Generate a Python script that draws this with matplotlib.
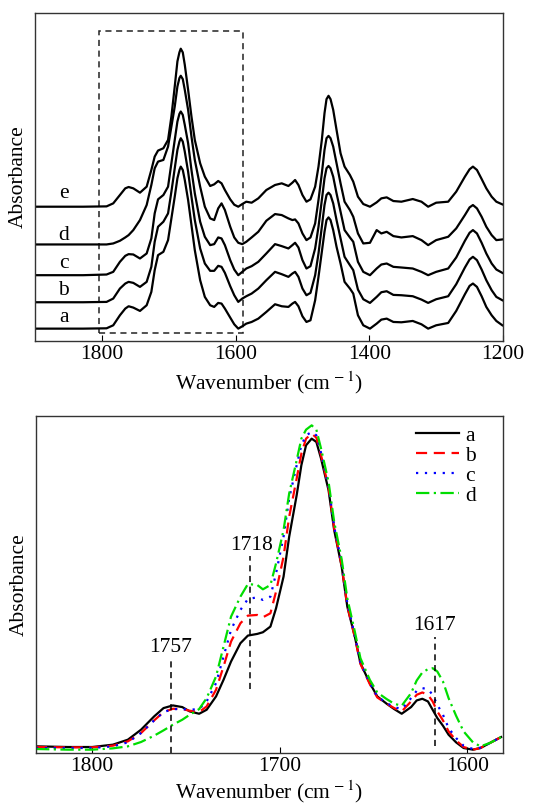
import numpy as np
import matplotlib
matplotlib.use("Agg")
import matplotlib.pyplot as plt
from matplotlib.patches import Rectangle

plt.rcParams['font.family'] = ['Liberation Serif', 'DejaVu Serif']
plt.rcParams['mathtext.fontset'] = 'stix'

# ---------------- top panel: stacked spectra a-e (offset absorbance, a.u.) ----------------
wn_top = [1900, 1828, 1793, 1783, 1773, 1765, 1760, 1753, 1743, 1733,
          1726, 1721, 1716, 1708, 1701, 1696, 1691, 1687, 1684, 1682,
          1679, 1676, 1671, 1666, 1661, 1653, 1646, 1638, 1632, 1626,
          1621, 1616, 1608, 1602, 1596, 1590, 1584, 1576, 1566, 1554,
          1541, 1531, 1521, 1515, 1511, 1506, 1500, 1494, 1488, 1481,
          1476, 1471, 1467, 1464, 1461, 1458, 1454, 1449, 1443, 1437,
          1429, 1424, 1417, 1409, 1399, 1389, 1382, 1374, 1364, 1352,
          1335, 1322, 1312, 1300, 1282, 1270, 1257, 1250, 1245, 1239,
          1232, 1225, 1217, 1210, 1201]

top_a = [37, 37, 38, 47, 77, 97, 104, 100, 90, 107,
         147, 212, 257, 267, 302, 367, 432, 487, 512, 522,
         512, 482, 422, 347, 272, 182, 132, 107, 102, 114,
         112, 97, 70, 50, 37, 44, 52, 57, 67, 87,
         110, 104, 102, 112, 117, 104, 74, 57, 62, 122,
         192, 267, 327, 362, 370, 362, 332, 282, 232, 177,
         157, 142, 77, 47, 37, 52, 64, 67, 57, 56,
         60, 50, 37, 47, 54, 90, 140, 165, 172, 162,
         134, 102, 77, 60, 47]
top_b = [116, 116, 117, 127, 157, 172, 177, 174, 162, 177,
         222, 297, 342, 357, 382, 447, 517, 572, 597, 607,
         597, 567, 507, 432, 362, 277, 232, 210, 210, 225,
         222, 204, 164, 137, 117, 127, 134, 142, 157, 182,
         207, 200, 192, 202, 207, 192, 157, 137, 144, 197,
         262, 342, 407, 437, 444, 437, 412, 362, 307, 252,
         227, 212, 154, 125, 114, 132, 146, 149, 138, 137,
         134, 124, 114, 125, 134, 170, 220, 244, 252, 242,
         214, 182, 152, 132, 122]
top_c = [197, 197, 199, 207, 237, 255, 260, 259, 247, 262,
         307, 382, 424, 437, 462, 532, 602, 657, 680, 687,
         677, 647, 592, 512, 442, 357, 312, 287, 290, 310,
         307, 287, 242, 214, 197, 207, 217, 224, 237, 262,
         290, 284, 277, 287, 294, 280, 242, 217, 224, 277,
         342, 422, 487, 517, 524, 517, 492, 442, 387, 332,
         310, 297, 237, 207, 197, 217, 229, 232, 222, 220,
         217, 207, 197, 207, 217, 250, 300, 324, 332, 322,
         294, 262, 232, 214, 204]
top_d = [289, 289, 289, 292, 300, 310, 317, 332, 362, 407,
         467, 517, 537, 542, 582, 642, 702, 762, 787, 794,
         784, 752, 692, 612, 542, 462, 402, 367, 362, 397,
         412, 392, 342, 310, 294, 290, 297, 310, 327, 360,
         380, 377, 367, 362, 364, 352, 322, 302, 310, 352,
         422, 502, 572, 607, 614, 607, 582, 532, 472, 417,
         392, 372, 322, 292, 294, 332, 322, 327, 314, 310,
         314, 302, 287, 302, 312, 337, 377, 400, 407, 397,
         372, 342, 317, 302, 304]
top_e = [402, 402, 403, 412, 437, 457, 461, 457, 444, 462,
         512, 552, 570, 577, 602, 672, 762, 837, 864, 875,
         864, 827, 752, 672, 602, 532, 492, 464, 469, 479,
         472, 452, 424, 408, 402, 410, 417, 414, 427, 452,
         467, 472, 464, 474, 482, 467, 437, 417, 424, 462,
         522, 602, 682, 724, 734, 724, 692, 632, 562, 522,
         497, 477, 432, 410, 402, 415, 427, 430, 419, 417,
         425, 417, 402, 414, 417, 447, 492, 514, 522, 512,
         485, 457, 432, 417, 409]
top_labels = ['a', 'b', 'c', 'd', 'e']
top_label_y = [70, 152, 232, 317, 442]

# ---------------- bottom panel: 1830-1581 cm-1 region ----------------
wn_bot = [1830, 1813, 1800, 1789, 1781, 1774, 1767, 1762, 1757, 1752,
          1748, 1743, 1739, 1734, 1730, 1726, 1721, 1717, 1712, 1709,
          1705, 1702, 1698, 1695, 1691, 1688.5, 1686, 1683, 1680.5, 1678,
          1674, 1671, 1667, 1664, 1660, 1657, 1652, 1648, 1643, 1639,
          1635, 1630, 1627, 1624, 1621, 1618.5, 1616, 1613, 1610, 1606,
          1602, 1597, 1593, 1588, 1582]
bot_a = [20, 18, 18, 25, 40, 70, 110, 135, 143, 138,
         125, 118, 130, 170, 220, 275, 330, 353, 358, 363,
         380, 435, 530, 650, 775, 865, 925, 945, 935, 885,
         790, 670, 560, 440, 350, 270, 210, 170, 148, 132,
         118, 138, 158, 163, 155, 130, 105, 82, 55, 32,
         15, 10, 15, 30, 48]
bot_b = [18, 17, 17, 22, 35, 60, 98, 123, 133, 132,
         127, 123, 140, 190, 260, 335, 390, 413, 415, 408,
         420, 485, 590, 710, 825, 900, 945, 960, 948, 895,
         798, 675, 562, 442, 348, 268, 207, 167, 148, 135,
         125, 155, 175, 182, 175, 155, 125, 98, 65, 38,
         18, 10, 15, 30, 48]
bot_c = [15, 15, 15, 20, 32, 60, 98, 123, 132, 132,
         130, 132, 155, 210, 290, 370, 430, 463, 468, 460,
         470, 540, 650, 765, 865, 925, 955, 965, 955, 902,
         802, 680, 570, 450, 352, 272, 210, 170, 150, 138,
         132, 165, 187, 195, 192, 175, 145, 115, 75, 45,
         22, 12, 16, 30, 48]
bot_d = [12, 10, 10, 14, 20, 33, 52, 68, 85, 100,
         115, 132, 165, 230, 320, 410, 470, 508, 505, 492,
         505, 570, 670, 780, 880, 945, 972, 985, 972, 915,
         815, 695, 582, 465, 365, 285, 220, 182, 162, 148,
         142, 180, 218, 242, 252, 255, 245, 215, 165, 112,
         65, 32, 20, 30, 48]
bot_labels = ['a', 'b', 'c', 'd']
bot_colors = ['#000000', '#ff0000', '#0000ff', '#00dd00']
bot_styles = ['-', (0, (5, 3)), (0, (1, 3)), (0, (6, 2, 1, 2))]

ann_pos = [1758, 1716, 1617.5]
ann_text = ['1757', '1718', '1617']
ann_text_x = [1758, 1715, 1617.5]
ann_text_y = [318, 625, 382]
ann_line_y = [(0, 282), (192, 592), (20, 348)]

FS = 15.5

fig = plt.figure(figsize=(5.47, 8.05), dpi=100)

# ---- top ----
ax1 = fig.add_axes([0.064, 0.5764, 0.8556, 0.4075])
for ys in [top_a, top_b, top_c, top_d, top_e]:
    ax1.plot(wn_top, ys, color='black', lw=1.6, solid_joinstyle='round')
for lab, yy in zip(top_labels, top_label_y):
    ax1.text(1857, yy, lab, fontsize=FS, ha='center', va='center')
ax1.add_patch(Rectangle((1804, 24), 1589 - 1804, 927 - 24, fill=False,
                        ls=(0, (4, 3)), lw=1.1, ec='#222222'))
ax1.set_xlim(1900, 1200)
ax1.set_ylim(0, 982)
ax1.set_xticks([1800, 1600, 1400, 1200])
ax1.set_yticks([])
ax1.tick_params(axis='x', direction='in', length=4, pad=3, labelsize=FS)
ax1.set_xlabel(r'Wavenumber (cm$^{\,-1}$)', fontsize=FS, labelpad=4)
ax1.set_ylabel('Absorbance', fontsize=FS, labelpad=5)

# ---- bottom ----
ax2 = fig.add_axes([0.0658, 0.0646, 0.8537, 0.4186])
for ys, lab, col, ls in zip([bot_a, bot_b, bot_c, bot_d], bot_labels, bot_colors, bot_styles):
    ax2.plot(wn_bot, ys, color=col, ls=ls, lw=1.6, label=lab)
for xp, t, tx, ty, (y0, y1) in zip(ann_pos, ann_text, ann_text_x, ann_text_y, ann_line_y):
    ax2.plot([xp, xp], [y0, y1], color='black', ls=(0, (4, 3)), lw=1.1)
    ax2.text(tx, ty, t, fontsize=FS, ha='center', va='center')
ax2.set_xlim(1830, 1581)
ax2.set_ylim(0, 1013)
ax2.set_xticks([1800, 1700, 1600])
ax2.set_yticks([])
ax2.tick_params(axis='x', direction='in', length=4, pad=3, labelsize=FS)
ax2.set_xlabel(r'Wavenumber (cm$^{\,-1}$)', fontsize=FS, labelpad=2)
ax2.set_ylabel('Absorbance', fontsize=FS, labelpad=5)
ax2.legend(loc='upper right', bbox_to_anchor=(0.97, 1.01), frameon=False,
           fontsize=FS, handlelength=2.0, handletextpad=0.3, labelspacing=0.0,
           borderaxespad=0.2)

for ax in (ax1, ax2):
    for s in ax.spines.values():
        s.set_linewidth(1.0)
        s.set_color('#333333')

fig.savefig('out.png', dpi=100)
